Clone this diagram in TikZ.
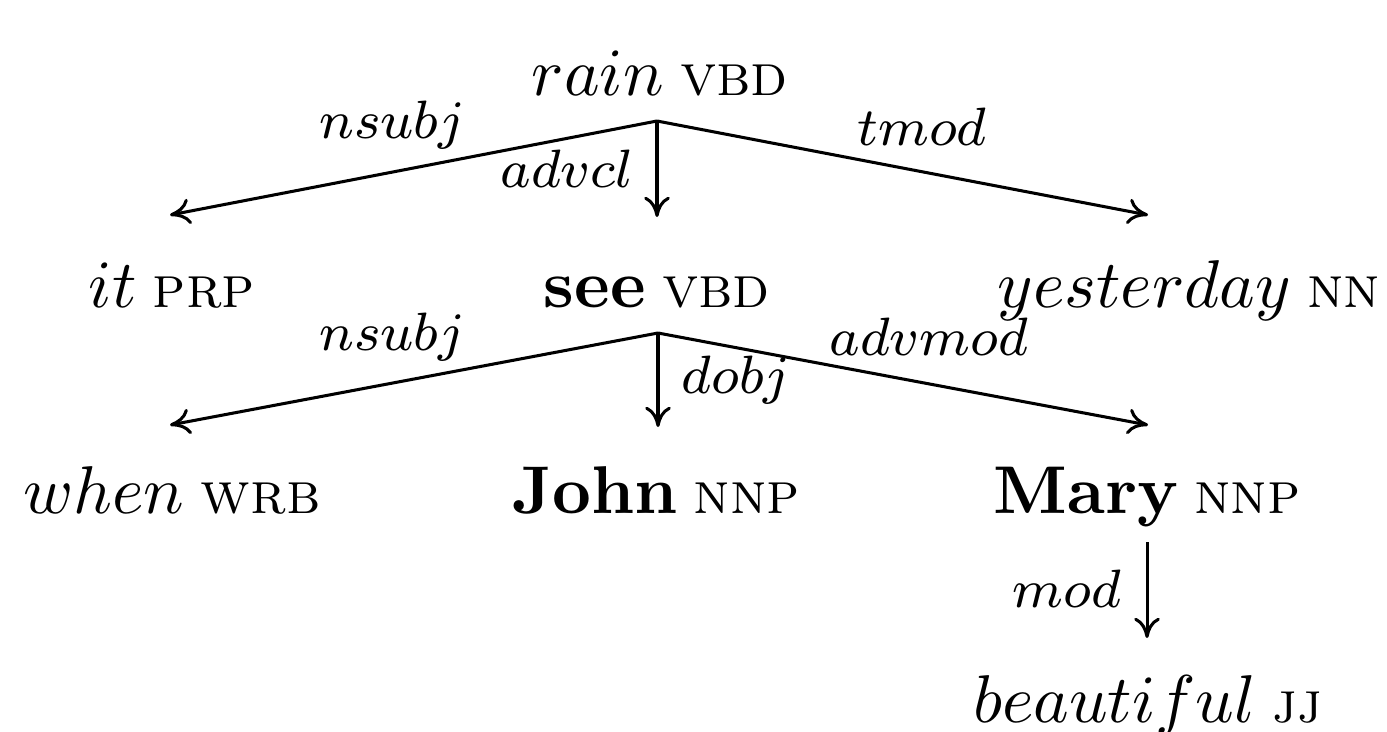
\documentclass[tikz,border=0pt]{standalone}
\usetikzlibrary{arrows.meta}
\begin{document}
\begin{tikzpicture}[x=0.148pt, y=-0.148pt,
  word/.style={anchor=base, inner sep=0pt, font=\fontsize{10}{12}\selectfont},
  rel/.style={anchor=base, inner sep=0pt, font=\fontsize{8.2}{10}\selectfont},
  dep/.style={line width=0.45pt, -{To[length=3pt,width=3.8pt]}}]
\newcommand{\tagof}[1]{\kern2.4pt{\fontsize{8.8}{10}\selectfont\textsc{#1}}}
\useasboundingbox (0,0) rectangle (1387,731);

% words of the sentence, one row per tree level
\node[word] (rain) at (660,95) {$rain$\tagof{vbd}};
\node[word] (it) at (172,307) {$it$\tagof{prp}};
\node[word] (see) at (657,307) {\textbf{see}\tagof{vbd}};
\node[word] (yesterday) at (1189,307) {$yesterday$\tagof{nn}};
\node[word] (when) at (172,513) {$when$\tagof{wrb}};
\node[word] (john) at (656,513) {\textbf{John}\tagof{nnp}};
\node[word] (mary) at (1147,513) {\textbf{Mary}\tagof{nnp}};
\node[word] (beautiful) at (1148,722) {$beautiful$\tagof{jj}};

% branching points and arrow ends
\coordinate (rain-out) at (657,121);
\coordinate (it-in) at (170,215);
\coordinate (see-in) at (657,217);
\coordinate (yesterday-in) at (1148,215);
\coordinate (see-out) at (658,333);
\coordinate (when-in) at (170,425);
\coordinate (john-in) at (658,427);
\coordinate (mary-in) at (1148,425);
\coordinate (mary-out) at (1147,542);
\coordinate (beautiful-in) at (1147,638);

% dependency arcs
\draw[dep] (rain-out) -- (it-in);
\draw[dep] (rain-out) -- (see-in);
\draw[dep] (rain-out) -- (yesterday-in);
\draw[dep] (see-out) -- (when-in);
\draw[dep] (see-out) -- (john-in);
\draw[dep] (see-out) -- (mary-in);
\draw[dep] (mary-out) -- (beautiful-in);

% relation labels
\node[rel] (l-nsubj1) at (392,138) {$nsubj$};
\node[rel] (l-advcl) at (567,187) {$advcl$};
\node[rel] (l-tmod) at (922,145) {$tmod$};
\node[rel] (l-nsubj2) at (392,350) {$nsubj$};
\node[rel] (l-dobj) at (736,393) {$dobj$};
\node[rel] (l-advmod) at (929,355) {$advmod$};
\node[rel] (l-mod) at (1067,607) {$mod$};
\end{tikzpicture}
\end{document}
